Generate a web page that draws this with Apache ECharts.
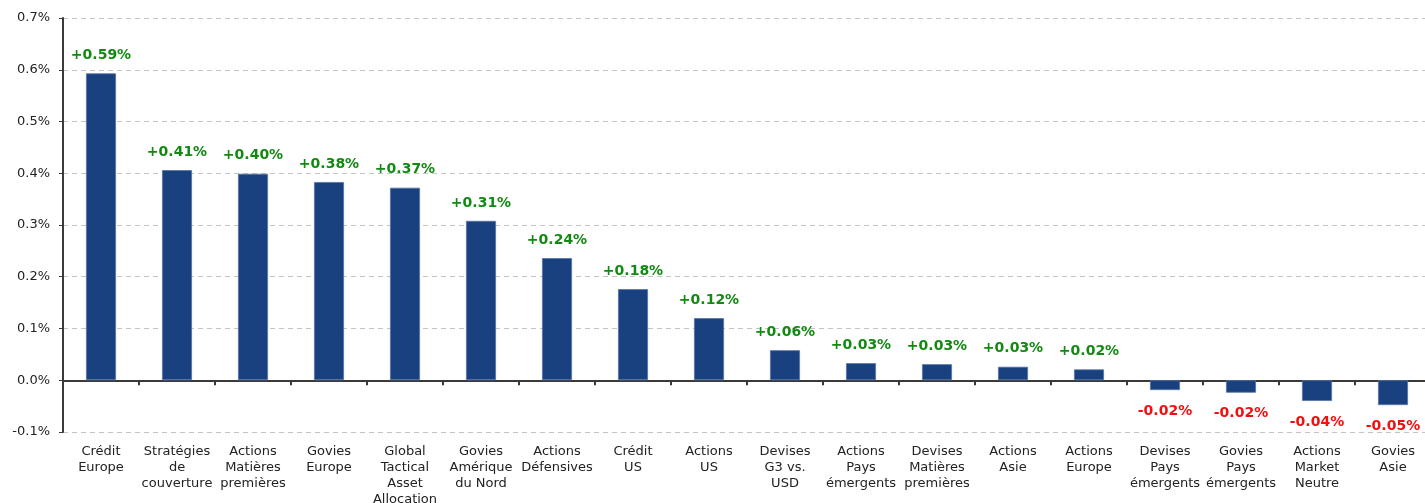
<!DOCTYPE html>
<html>
<head>
<meta charset="utf-8">
<script src="https://cdn.jsdelivr.net/npm/echarts@6/dist/echarts.min.js"></script>
<style>
  html, body { margin: 0; padding: 0; background: #fff; }
  #main { width: 1425px; height: 503px; }
</style>
</head>
<body>
<div id="main"></div>
<script>
// données (en %)
var categories = [
    'Crédit\nEurope', 'Stratégies\nde\ncouverture', 'Actions\nMatières\npremières', 'Govies\nEurope',
    'Global\nTactical\nAsset\nAllocation', 'Govies\nAmérique\ndu Nord', 'Actions\nDéfensives', 'Crédit\nUS',
    'Actions\nUS', 'Devises\nG3 vs.\nUSD', 'Actions\nPays\némergents', 'Devises\nMatières\npremières',
    'Actions\nAsie', 'Actions\nEurope', 'Devises\nPays\némergents', 'Govies\nPays\némergents',
    'Actions\nMarket\nNeutre', 'Govies\nAsie'
];
var values = [0.593, 0.406, 0.399, 0.383, 0.372, 0.308, 0.236, 0.176, 0.120, 0.058,
              0.033, 0.031, 0.026, 0.021, -0.019, -0.024, -0.040, -0.048];

var font = 'DejaVu Sans, Verdana, sans-serif';

var myChart = echarts.init(document.getElementById('main'));
var option = {
    animation: false,
    grid: {
        left: 63,
        right: -6,
        top: 18,
        bottom: 71,
        containLabel: false,
        outerBoundsMode: 'none'
    },
    xAxis: [
        {
            type: 'category',
            data: categories,
            position: 'bottom',
            axisLine: { show: false, onZero: false },
            axisTick: { show: false },
            axisLabel: {
                interval: 0,
                margin: 12,
                color: '#222',
                fontFamily: font,
                fontSize: 13,
                lineHeight: 16
            }
        },
        {
            type: 'category',
            data: categories,
            position: 'bottom',
            axisLine: { show: true, onZero: true, lineStyle: { color: '#3a3a3a', width: 2 } },
            axisTick: { show: true, interval: 0, length: 5, lineStyle: { color: '#3a3a3a', width: 2 } },
            axisLabel: { show: false, interval: 0 }
        }
    ],
    yAxis: {
        type: 'value',
        min: -0.1,
        max: 0.7,
        interval: 0.1,
        axisLine: { show: true, lineStyle: { color: '#3a3a3a', width: 2 } },
        axisTick: { show: true, length: 4, lineStyle: { color: '#3a3a3a' } },
        axisLabel: {
            margin: 13,
            color: '#222',
            fontFamily: font,
            fontSize: 13,
            formatter: function (v) { return v.toFixed(1) + '%'; }
        },
        splitLine: {
            lineStyle: { color: '#c4c4c4', type: [5, 4], width: 1 }
        }
    },
    series: [
        {
            type: 'bar',
            barWidth: 30,
            itemStyle: {
                color: '#19417f',
                borderColor: '#5673a3',
                borderWidth: 0.8
            },
            label: {
                show: true,
                fontFamily: font,
                fontSize: 14,
                fontWeight: 'bold',
                formatter: function (p) {
                    return (p.value > 0 ? '+' : '') + p.value.toFixed(2) + '%';
                }
            },
            data: values.map(function (v) {
                return {
                    value: v,
                    label: v >= 0
                        ? { position: 'top', distance: 11, color: '#128a12' }
                        : { position: 'bottom', distance: 14, color: '#f20f0f' }
                };
            })
        }
    ]
};

option && myChart.setOption(option);
</script>
</body>
</html>
